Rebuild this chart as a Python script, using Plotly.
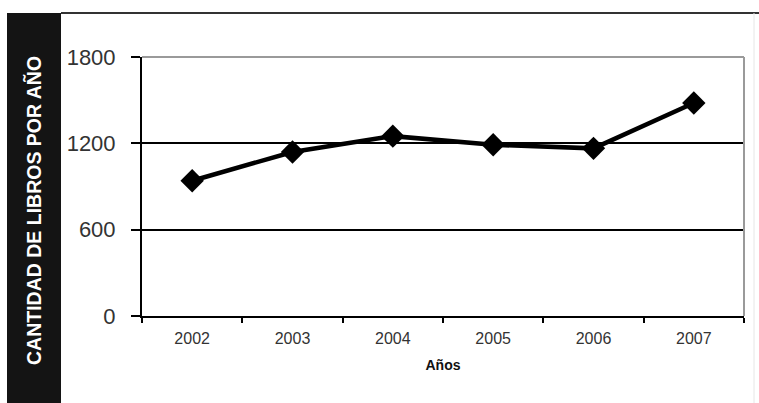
import plotly.graph_objects as go

# ---- data ----
years = ["2002", "2003", "2004", "2005", "2006", "2007"]
books = [940, 1140, 1250, 1190, 1165, 1480]
y_ticks = [0, 600, 1200, 1800]
y_title = "CANTIDAD DE LIBROS POR AÑO"
x_title = "Años"

# ---- layout geometry (pixels) ----
W, H = 759, 403
L, R, T, B = 142, 15, 57, 87
pw = W - L - R
ph = H - T - B


def px(x):
    return (x - L) / pw


def py(y):
    return (H - B - y) / ph


FONT = "Liberation Sans, Arial, sans-serif"

fig = go.Figure()
fig.add_trace(go.Scatter(
    x=years, y=books, mode="lines+markers",
    line=dict(color="black", width=4.5),
    marker=dict(symbol="diamond", size=18, color="black"),
    showlegend=False,
))

shapes = [
    # black band on the left
    dict(type="rect", xref="paper", yref="paper",
         x0=px(7), x1=px(61), y0=py(H + 5), y1=py(13),
         fillcolor="#141414", line=dict(width=0), layer="below"),
    # top frame line
    dict(type="line", xref="paper", yref="paper",
         x0=px(61), x1=px(W + 5), y0=py(13), y1=py(13),
         line=dict(color="#333333", width=2)),
    # faint right frame line
    dict(type="line", xref="paper", yref="paper",
         x0=px(754), x1=px(754), y0=py(13), y1=py(H + 5),
         line=dict(color="#e6e6e6", width=1)),
    # plot area top / right border (grey)
    dict(type="line", xref="paper", yref="paper",
         x0=0, x1=1, y0=1, y1=1,
         line=dict(color="#9a9a9a", width=2), layer="above"),
    dict(type="line", xref="paper", yref="paper",
         x0=1, x1=1, y0=0, y1=1,
         line=dict(color="#9a9a9a", width=2), layer="above"),
]

fig.update_layout(
    width=W, height=H,
    margin=dict(l=L, r=R, t=T, b=B, pad=0),
    paper_bgcolor="white", plot_bgcolor="white",
    font=dict(family=FONT, color="#333333"),
    shapes=shapes,
    annotations=[
        dict(text="<b>" + y_title + "</b>", textangle=-90,
             xref="paper", yref="paper", x=px(34), y=py(211),
             xanchor="center", yanchor="middle", showarrow=False,
             font=dict(family=FONT, size=19.5, color="white")),
    ],
    xaxis=dict(
        type="category", range=[-0.5, 5.5],
        showline=True, linecolor="black", linewidth=2,
        ticks="outside", tickson="boundaries", ticklen=5,
        tickcolor="black", tickwidth=2, showgrid=False,
        tickfont=dict(family=FONT, size=16, color="#333333"),
        ticklabelstandoff=7,
        title=dict(text="<b>" + x_title + "</b>", standoff=14,
                   font=dict(family=FONT, size=14, color="#111111")),
    ),
    yaxis=dict(
        range=[0, 1800], tickvals=y_ticks,
        showline=True, linecolor="black", linewidth=2,
        ticks="outside", ticklen=9, tickcolor="black", tickwidth=2,
        showgrid=True, gridcolor="black", gridwidth=1.5,
        zeroline=False,
        tickfont=dict(family=FONT, size=22, color="#333333"),
        ticklabelstandoff=11,
    ),
)

fig.write_html("out.html")
